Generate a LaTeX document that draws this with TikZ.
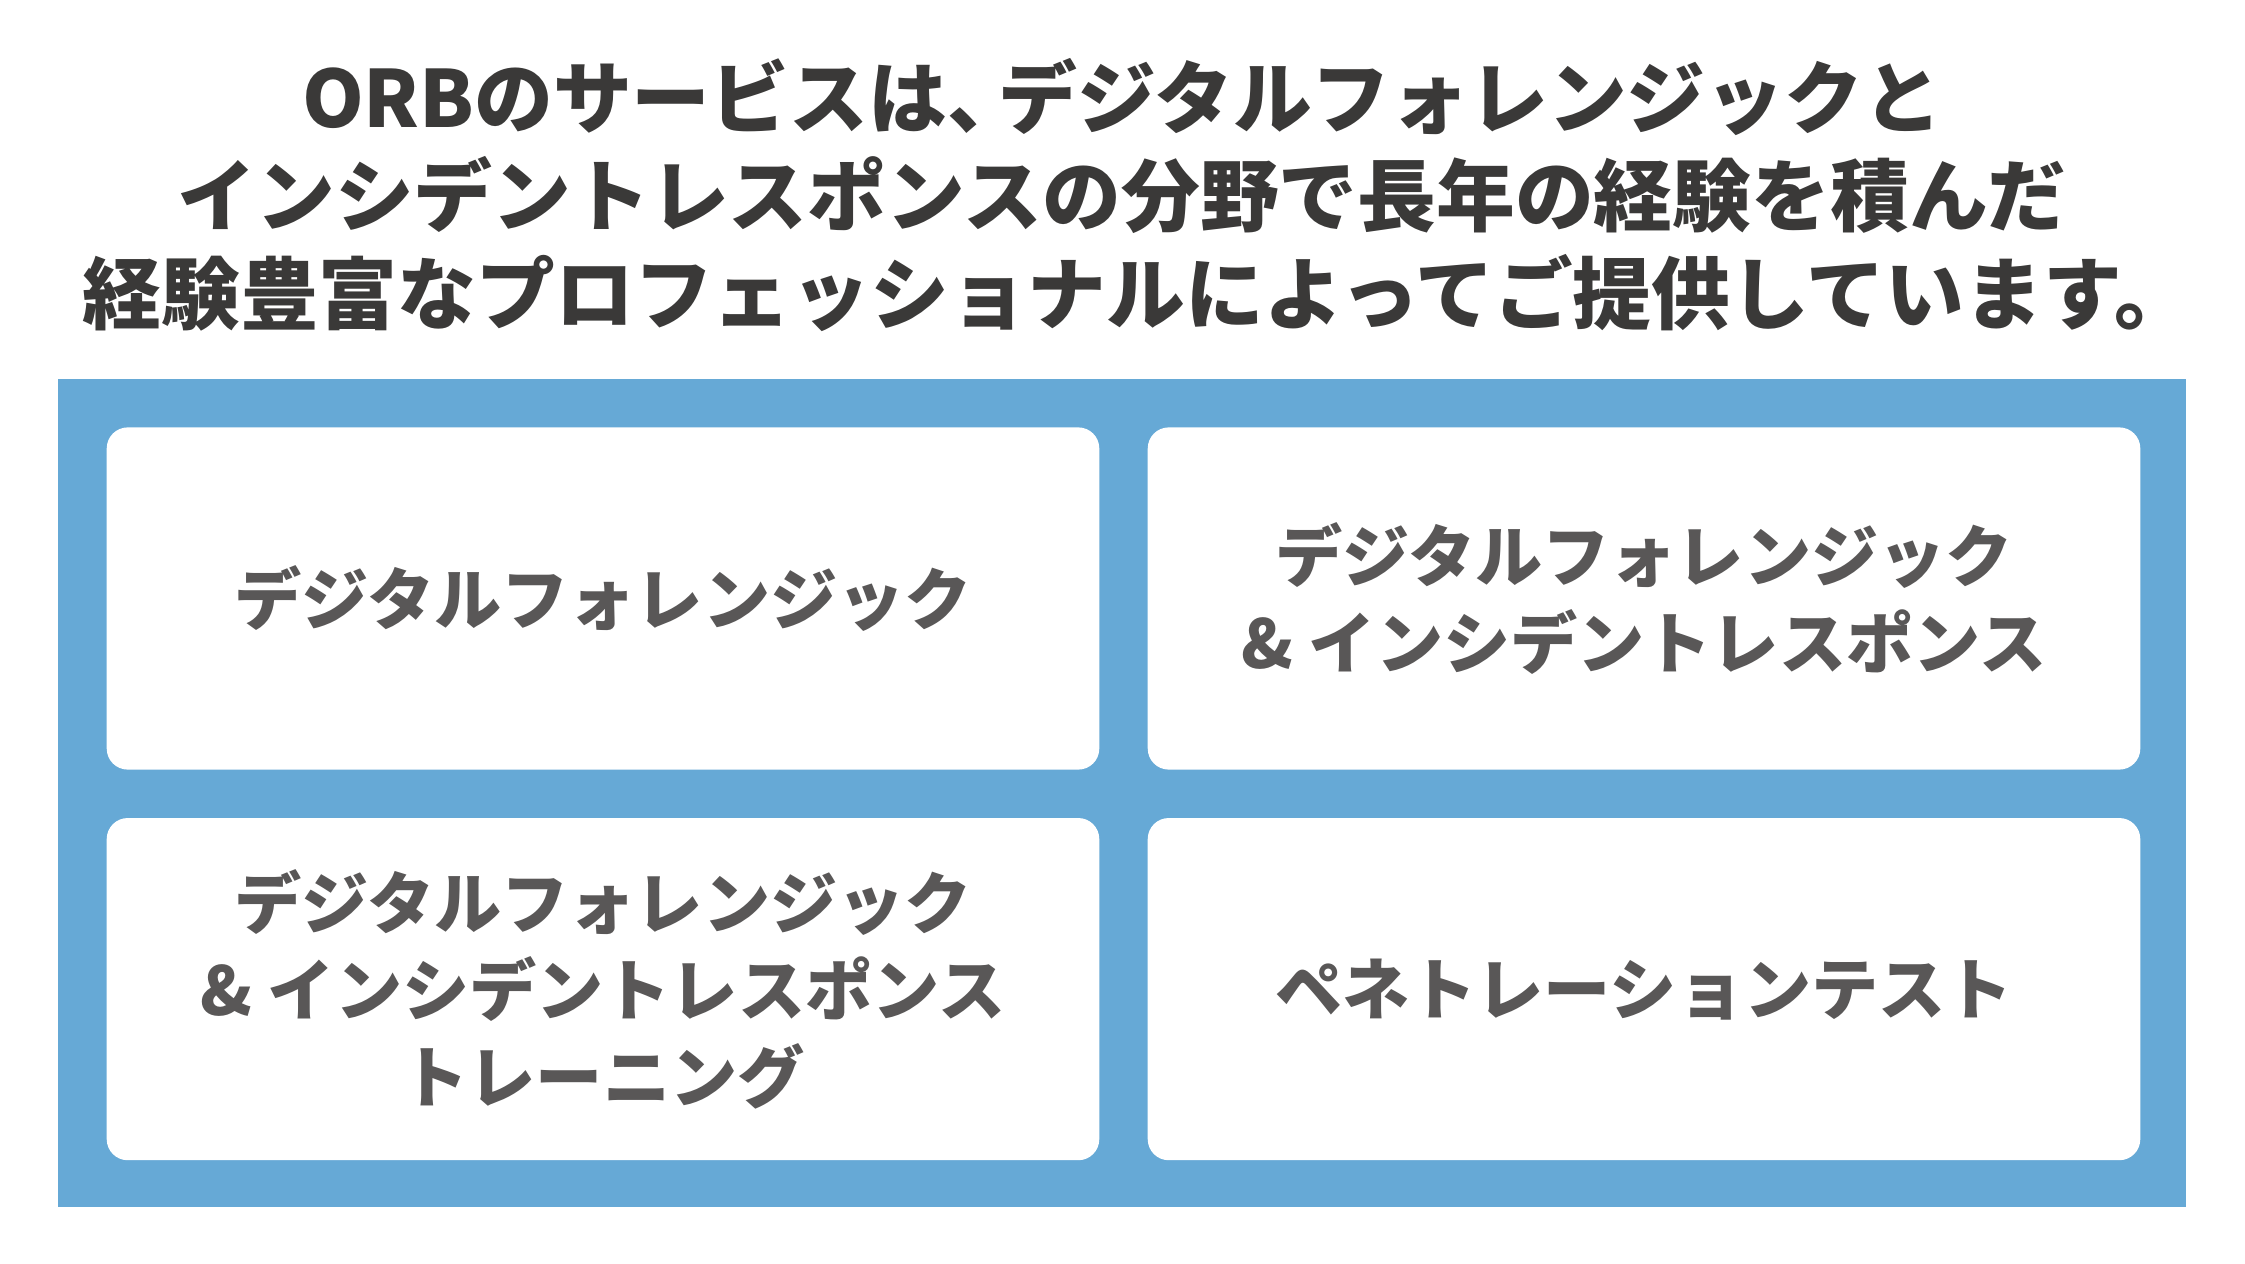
\documentclass[tikz,border=0pt]{standalone}
\usepackage{fontspec}
\setmainfont{Noto Sans CJK JP}
\usetikzlibrary{positioning}

\definecolor{orbblue}{HTML}{66A9D6}
\definecolor{orbtitle}{HTML}{3A3938}
\definecolor{orbtext}{HTML}{595757}

\begin{document}
\begin{tikzpicture}[
  x=0.01cm,
  y=-0.01cm,
  heading/.style={font=\bfseries\fontsize{22.4}{27.9}\selectfont,
    text=orbtitle,align=center,inner sep=0pt},
  frame/.style={fill=orbblue,minimum width=21.26cm,minimum height=8.28cm,
    inner sep=0pt},
  card/.style={fill=white,rounded corners=2.1mm,minimum width=9.92cm,
    minimum height=3.42cm,inner sep=0pt,align=center,text=orbtext,
    font=\bfseries\fontsize{19.1}{24.8}\selectfont}
]
  \useasboundingbox (0,0) rectangle (2245,1264);

  \node[heading] (title) at (1122,195)
    {ORBのサービスは、\kern-0.35em デジタルフォレンジックと\\
     インシデントレスポンスの分野で長年の経験を積んだ\\
     経験豊富なプロフェッショナルによってご提供しています。\kern-0.4em};

  \node[frame] (frame) at (1122,793) {};

  \node[card] (forensic) at (603,598.5) {デジタルフォレンジック};
  \node[card,right=0.47cm of forensic] (dfir)
    {デジタルフォレンジック\\\& インシデントレスポンス};
  \node[card,below=0.47cm of forensic] (training)
    {デジタルフォレンジック\\\& インシデントレスポンス\\トレーニング};
  \node[card,below=0.47cm of dfir] (pentest) {ペネトレーションテスト};
\end{tikzpicture}
\end{document}
